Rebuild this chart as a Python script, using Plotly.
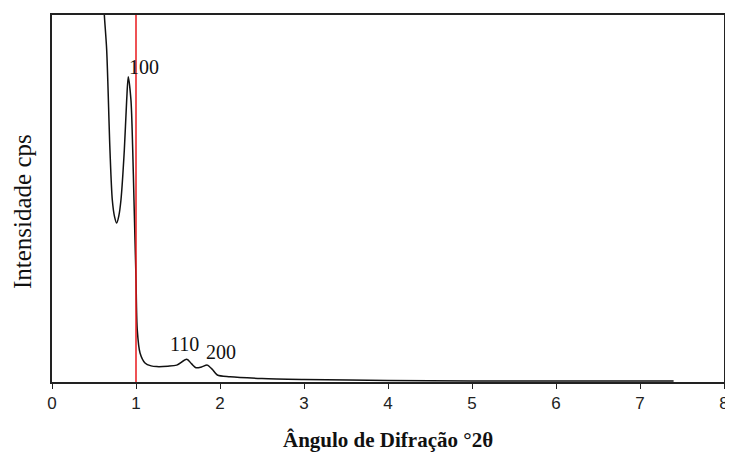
import plotly.graph_objects as go

two_theta = [0.600, 0.623, 0.651, 0.690, 0.718, 0.745, 0.770, 0.795, 0.821, 0.861, 0.889, 0.908,
             0.940, 0.961, 0.976, 0.988, 1.000, 1.015, 1.048, 1.107, 1.180, 1.246, 1.380, 1.485,
             1.604, 1.660, 1.714, 1.780, 1.849, 1.910, 1.968, 2.119, 2.500, 3.000,
             4.000, 5.000, 6.000, 7.000, 7.400]
intensity = [110, 100, 90.5, 63.2, 49.6, 45.0, 43.3, 45.2, 49.6, 63.2, 76.8, 83.2,
             76.8, 63.2, 49.6, 38.7, 28.0, 14.2, 7.9, 5.2, 4.4, 4.2, 4.3, 4.6,
             6.2, 5.0, 3.9, 4.1, 4.6, 3.4, 1.9, 1.4, 0.95, 0.7,
             0.4, 0.27, 0.27, 0.27, 0.27]

peak_labels = ["100", "110", "200"]
peak_x = [0.89, 1.58, 2.01]
peak_y = [85.8, 10.4, 8.2]

x_ticks = [0, 1, 2, 3, 4, 5, 6, 7, 8]
ref_x = 1.0

fig = go.Figure()
fig.add_trace(go.Scatter(x=two_theta, y=intensity, mode="lines",
                         line=dict(color="#111", width=1.5, shape="spline", smoothing=0.8),
                         showlegend=False, hoverinfo="skip"))
fig.add_trace(go.Scatter(x=[ref_x, ref_x], y=[0, 100], mode="lines",
                         line=dict(color="#e8191d", width=1.5), showlegend=False, hoverinfo="skip"))

for i, (lab, px, py) in enumerate(zip(peak_labels, peak_x, peak_y)):
    fig.add_annotation(x=px, y=py, text=lab, showarrow=False,
                       xanchor="left" if i == 0 else "center", yanchor="middle",
                       font=dict(family="Liberation Serif", size=20, color="#111"))

fig.add_annotation(xref="paper", yref="paper", x=-0.0446, y=0.463, text="Intensidade cps",
                   textangle=-90, showarrow=False, xanchor="center", yanchor="middle",
                   font=dict(family="Liberation Serif", size=25, color="#111"))
fig.add_annotation(xref="paper", yref="paper", x=0.5, y=-0.158, text="<b>Ângulo de Difração °2θ</b>",
                   showarrow=False, xanchor="center", yanchor="middle",
                   font=dict(family="Liberation Serif", size=21, color="#111"))

fig.update_layout(
    width=725, height=444,
    margin=dict(l=44, r=9, t=7, b=70),
    paper_bgcolor="white", plot_bgcolor="white",
    xaxis=dict(range=[0, 8], tickvals=x_ticks, ticks="outside", ticklen=5, tickcolor="#222",
               showline=True, linecolor="#222", linewidth=1.5, mirror=True, showgrid=False,
               zeroline=False, automargin=False,
               tickfont=dict(family="Liberation Sans", size=17, color="#222")),
    yaxis=dict(range=[0, 100], showticklabels=False, ticks="", showline=True, linecolor="#222",
               linewidth=1.5, mirror=True, showgrid=False, zeroline=False, automargin=False),
)

fig.write_html("out.html")
